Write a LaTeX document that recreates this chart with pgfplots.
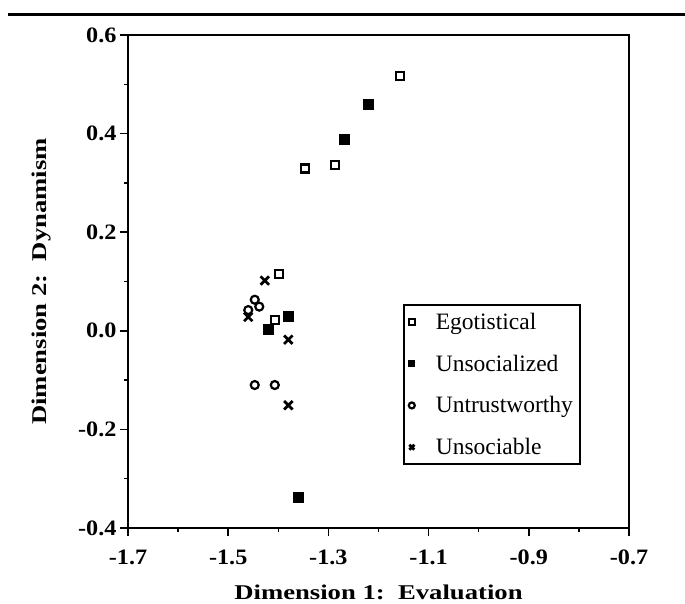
\documentclass[border=0pt]{standalone}
\usepackage{fontspec}
\setmainfont{Liberation Serif}
\newfontfamily\tickfont[FakeStretch=1.1]{Liberation Serif}
\newfontfamily\titlefont[FakeStretch=1.27]{Liberation Serif}
\usepackage{pgfplots}
\pgfplotsset{compat=1.18}

\begin{document}
\begin{tikzpicture}
\useasboundingbox (-128pt,-76pt) rectangle (557pt,528pt);
\draw[line width=3pt] (-120pt,513pt) -- (557pt,513pt);
\begin{axis}[
    at={(0pt,0pt)}, anchor=south west,
    scale only axis, width=501pt, height=493pt,
    xmin=-1.7, xmax=-0.7, ymin=-0.4, ymax=0.6,
    xtick={-1.7,-1.5,-1.3,-1.1,-0.9,-0.7},
    xticklabels={-1.7,-1.5,-1.3,-1.1,-0.9,-0.7},
    ytick={-0.4,-0.2,0,0.2,0.4,0.6},
    yticklabels={-0.4,-0.2,0.0,0.2,0.4,0.6},
    minor x tick num=1, minor y tick num=1,
    tick align=outside, major tick length=8pt, minor tick length=4pt,
    tick style={line width=1.5pt, black},
    xtick pos=bottom, ytick pos=left,
    axis line style={line width=1.8pt},
    ticklabel style={font=\tickfont\bfseries\fontsize{22}{22}\selectfont},
    xticklabel style={yshift=-10pt},
    xlabel={Dimension 1:\ \ Evaluation},
    ylabel={Dimension 2:\ \ Dynamism},
    every axis x label/.style={at={(axis description cs:0.5,-0.130)}, anchor=center,
        font=\titlefont\bfseries\fontsize{21}{21}\selectfont},
    every axis y label/.style={at={(axis description cs:-0.172,0.5)}, anchor=center, rotate=90,
        font=\titlefont\bfseries\fontsize{21}{21}\selectfont},
    legend style={at={(rel axis cs:0.549,0.454)}, anchor=north west, draw=black,
        line width=1.5pt, font=\fontsize{23.5}{26}\selectfont,
        row sep=20pt, column sep=19pt, inner xsep=5pt, inner ysep=6pt},
    legend cell align=left,
]
\addplot[only marks, mark=square, mark size=4pt, line width=2.2pt, black,
    mark options={fill=white}, legend image post style={mark size=3pt}]
    coordinates {(-1.157,0.517) (-1.287,0.337) (-1.347,0.329) (-1.399,0.116) (-1.407,0.022)};
\addlegendentry{Egotistical}
\addplot[only marks, mark=square*, mark size=5pt, line width=1pt, black,
    legend image post style={mark size=3pt}]
    coordinates {(-1.220,0.459) (-1.267,0.389) (-1.380,0.029) (-1.420,0.002) (-1.360,-0.339)};
\addlegendentry{Unsocialized}
\addplot[only marks, mark=o, mark size=4pt, line width=2.2pt, black,
    legend image post style={mark size=3pt}]
    coordinates {(-1.447,0.063) (-1.438,0.049) (-1.460,0.042) (-1.447,-0.110) (-1.407,-0.110)};
\addlegendentry{Untrustworthy}
\addplot[only marks, mark=x, mark size=6pt, line width=2.8pt, black,
    legend image post style={mark size=3.5pt}]
    coordinates {(-1.427,0.102) (-1.460,0.028) (-1.380,-0.018) (-1.380,-0.151)};
\addlegendentry{Unsociable}
\end{axis}
\end{tikzpicture}
\end{document}
